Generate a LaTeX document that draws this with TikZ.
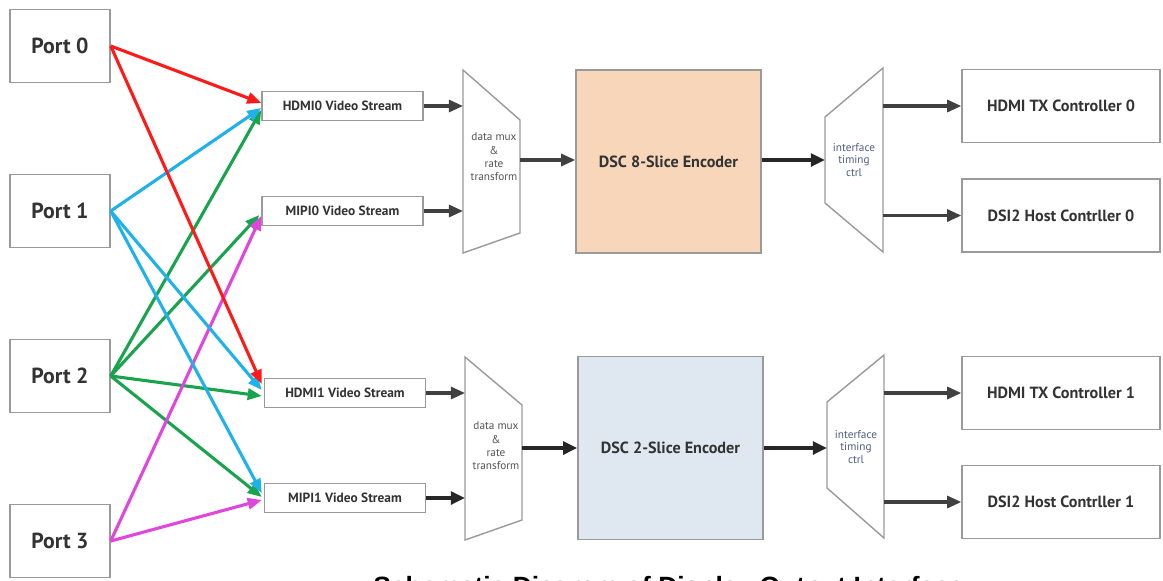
\documentclass[tikz,border=0pt]{standalone}
\usepackage{fontspec}
\setmainfont{PT Sans}
\newfontfamily\capfont{Liberation Sans}
\usetikzlibrary{arrows.meta,calc}

\definecolor{boxline}{HTML}{9A9A9A}
\definecolor{labeltext}{HTML}{333333}
\definecolor{flowline}{HTML}{404040}
\definecolor{peach}{HTML}{F7D6B9}
\definecolor{paleblue}{HTML}{DFE8F1}
\definecolor{linkred}{HTML}{FF1A1A}
\definecolor{linkblue}{HTML}{1FB2EA}
\definecolor{linkgreen}{HTML}{18A44C}
\definecolor{linkmag}{HTML}{E045DE}
\definecolor{smalltext}{HTML}{555555}
\definecolor{ctrltext}{HTML}{4F5F80}

\tikzset{
  blk/.style={draw=boxline, line width=1pt, fill=white, text=labeltext,
    font=\bfseries, inner sep=0pt, align=center},
  portbox/.style={blk, minimum width=2.5cm, minimum height=1.825cm,
    font=\fontsize{15.5}{18}\selectfont\bfseries},
  streambox/.style={blk, minimum width=4.025cm, minimum height=0.725cm,
    font=\fontsize{9.5}{11}\selectfont\bfseries},
  encbox/.style={blk, minimum width=4.625cm, minimum height=4.58cm,
    font=\fontsize{11.5}{13}\selectfont\bfseries},
  outbox/.style={blk, minimum width=4.95cm, minimum height=1.825cm,
    font=\fontsize{11.5}{13}\selectfont\bfseries},
  trap/.style={draw=boxline, line width=1pt, fill=white},
  muxlabel/.style={font=\fontsize{8}{9.5}\selectfont, text=smalltext, align=center, inner sep=0pt},
  ctrllabel/.style={font=\fontsize{8}{9}\selectfont, text=ctrltext, align=center, inner sep=0pt},
  flow/.style={draw=flowline, line width=2.2pt, -{Triangle[length=10pt,width=8.5pt]}},
  heavyflow/.style={draw=black!85, line width=2.5pt, -{Triangle[length=10pt,width=9pt]}},
  link/.style={line width=2.2pt, -{Triangle[length=10pt,width=8pt]}},
}

\begin{document}
\begin{tikzpicture}[x=0.025cm, y=-0.025cm]
\useasboundingbox (0,0) rectangle (1163,580);
\clip (0,0) rectangle (1163,580);

% input ports
\node[portbox] (p0) at (60,46)  {Port 0};
\node[portbox] (p1) at (60,211) {Port 1};
\node[portbox] (p2) at (60,376) {Port 2};
\node[portbox] (p3) at (60,541) {Port 3};

% video streams
\node[streambox] (h0) at (342.5,106) {HDMI0 Video Stream};
\node[streambox] (m0) at (342.5,211) {MIPI0 Video Stream};
\node[streambox] (h1) at (345,393)   {HDMI1 Video Stream};
\node[streambox] (m1) at (345,498)   {MIPI1 Video Stream};

% data mux / rate transform blocks
\coordinate (muxA) at (463,0);
\coordinate (muxAout) at (520,160);
\draw[trap] (463,70) -- (520,120) -- (520,233) -- (463,253) -- cycle;
\node[muxlabel] (muxAlbl) at (494,157) {data mux\\\&\\rate\\transform};

\coordinate (muxB) at (465,0);
\coordinate (muxBout) at (522,448);
\draw[trap] (465,357) -- (522,405) -- (522,520) -- (465,540) -- cycle;
\node[muxlabel] (muxBlbl) at (496,446) {data mux\\\&\\rate\\transform};

% encoders
\node[encbox, fill=peach]    (encA) at (668.5,161.5) {DSC 8-Slice Encoder};
\node[encbox, fill=paleblue] (encB) at (670.5,448)   {DSC 2-Slice Encoder};

% interface timing control blocks
\coordinate (tcA) at (825,160);
\coordinate (tcAout) at (883,0);
\draw[trap] (825,117) -- (883,68) -- (883,252) -- (825,203) -- cycle;
\node[ctrllabel] (tcAlbl) at (854,160) {interface\\timing\\ctrl};

\coordinate (tcB) at (827,448);
\coordinate (tcBout) at (884,0);
\draw[trap] (827,402) -- (884,355) -- (884,538) -- (827,488) -- cycle;
\node[ctrllabel] (tcBlbl) at (856,447) {interface\\timing\\ctrl};

% output controllers
\node[outbox] (o0) at (1061,106)   {HDMI TX Controller 0};
\node[outbox] (o1) at (1061,215.5) {DSI2 Host Contrller 0};
\node[outbox] (o2) at (1061,393)   {HDMI TX Controller 1};
\node[outbox] (o3) at (1061,502)   {DSI2 Host Contrller 1};

% stream -> mux
\draw[flow] (h0.east) -- (h0.east -| muxA);
\draw[flow] (m0.east) -- (m0.east -| muxA);
\draw[flow] (h1.east) -- (h1.east -| muxB);
\draw[heavyflow] (m1.east) -- (m1.east -| muxB);

% mux -> encoder -> timing control
\draw[flow] (muxAout) -- (muxAout -| encA.west);
\draw[heavyflow] (muxBout) -- (muxBout -| encB.west);
\draw[heavyflow] (encA.east |- tcA) -- (tcA);
\draw[heavyflow] (encB.east |- tcB) -- (tcB);

% timing control -> controllers
\draw[flow] (o0.west -| tcAout) -- (o0.west);
\draw[flow] (o1.west -| tcAout) -- (o1.west);
\draw[flow] (o2.west -| tcBout) -- (o2.west);
\draw[flow] (o3.west -| tcBout) -- (o3.west);

% port routing
\draw[link, linkgreen] (p2.east) -- ($(h0.west)+(0,4)$);
\draw[link, linkgreen] (p2.east) -- ($(m0.west)+(-2,4)$);
\draw[link, linkgreen] (p2.east) -- ($(h1.west)+(-2,3)$);
\draw[link, linkgreen] (p2.east) -- ($(m1.west)+(-2,-1)$);
\draw[link, linkmag] (p3.east) -- ($(m0.west)+(0,5)$);
\draw[link, linkmag] (p3.east) -- ($(m1.west)+(-2,2)$);
\draw[link, linkblue] (p1.east) -- ($(h0.west)+(0,2)$);
\draw[link, linkblue] (p1.east) -- ($(h1.west)+(-2,-3)$);
\draw[link, linkblue] (p1.east) -- ($(m1.west)+(-2,-5)$);
\draw[link, linkred] (p0.east) -- ($(h0.west)+(0,-3)$);
\draw[link, linkred] (p0.east) -- ($(h1.west)+(-2,-9)$);

% caption, running off the lower edge
\node[anchor=base west, inner sep=0pt, font=\capfont\fontsize{18.8}{22}\selectfont\bfseries]
  (cap) at (373,595) {Schematic Diagram of Display Output Interface};
\end{tikzpicture}
\end{document}
